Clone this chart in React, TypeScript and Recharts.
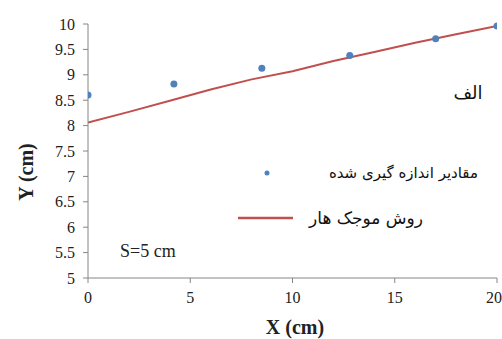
import {
  ComposedChart,
  Line,
  Scatter,
  XAxis,
  YAxis,
} from "recharts";

// measured values along the plate
const measuredX = [0, 4.2, 8.5, 12.8, 17, 20];
const measuredY = [8.6, 8.82, 9.13, 9.38, 9.71, 9.96];

// Haar wavelet solution
const haarX = [0, 2, 4, 6, 8, 10, 12, 14, 16, 18, 20];
const haarY = [8.06, 8.27, 8.49, 8.71, 8.91, 9.07, 9.27, 9.45, 9.63, 9.8, 9.96];

const xTicks = [0, 5, 10, 15, 20];
const yTicks = [5, 5.5, 6, 6.5, 7, 7.5, 8, 8.5, 9, 9.5, 10];

const measuredLabel = "مقادیر اندازه گیری شده";
const haarLabel = "روش موجک هار";
const panelLabel = "الف";
const spacingLabel = "S=5 cm";

const measured = measuredX.map((x, i) => ({ x, y: measuredY[i] }));
const haar = haarX.map((x, i) => ({ x, y: haarY[i] }));

const AXIS = "#868686";
const BLUE = "#4f81bd";
const RED = "#c0504d";
const serif = "Liberation Serif, Times New Roman, serif";
const persian = "DejaVu Sans, sans-serif";

export default function App() {
  return (
    <div
      style={{
        position: "absolute",
        left: 0,
        top: 0,
        width: 502,
        height: 339,
        overflow: "hidden",
        background: "#fff",
      }}
    >
      <ComposedChart
        width={502}
        height={339}
        margin={{ top: 24, right: 5, bottom: 0, left: 0 }}
      >
        <XAxis
          type="number"
          dataKey="x"
          domain={[0, 20]}
          ticks={xTicks}
          height={61}
          tickSize={5}
          tickMargin={9}
          stroke={AXIS}
          tick={{ fill: "#222", fontFamily: serif, fontSize: 16 }}
          allowDataOverflow
        />
        <YAxis
          type="number"
          dataKey="y"
          domain={[5, 10]}
          ticks={yTicks}
          width={88}
          tickSize={5}
          tickMargin={8}
          stroke={AXIS}
          tick={{ fill: "#222", fontFamily: serif, fontSize: 16 }}
        />
        <Line
          data={haar}
          dataKey="y"
          type="linear"
          stroke={RED}
          strokeWidth={2}
          dot={false}
          isAnimationActive={false}
        />
        <Scatter
          data={measured}
          dataKey="y"
          fill={BLUE}
          shape={(p: any) => <circle cx={p.cx} cy={p.cy} r={3.5} fill={BLUE} />}
          isAnimationActive={false}
        />
      </ComposedChart>

      {/* axis titles */}
      <div
        style={{
          position: "absolute",
          left: 26,
          top: 172,
          transform: "translate(-50%, -50%) rotate(-90deg)",
          fontFamily: serif,
          fontWeight: "bold",
          fontSize: 20,
          whiteSpace: "nowrap",
          color: "#222",
        }}
      >
        Y (cm)
      </div>
      <div
        style={{
          position: "absolute",
          left: 295,
          top: 327,
          transform: "translate(-50%, -50%)",
          fontFamily: serif,
          fontWeight: "bold",
          fontSize: 20,
          whiteSpace: "nowrap",
          color: "#222",
        }}
      >
        X (cm)
      </div>

      {/* legend */}
      <svg
        width={60}
        height={60}
        style={{ position: "absolute", left: 236, top: 165 }}
      >
        <circle cx={31} cy={8} r={2.5} fill={BLUE} />
        <line x1={2} y1={53} x2={57} y2={53} stroke={RED} strokeWidth={2.5} />
      </svg>
      <div
        dir="rtl"
        style={{
          position: "absolute",
          right: 502 - 478,
          top: 173,
          transform: "translateY(-50%)",
          fontFamily: persian,
          fontSize: 15,
          whiteSpace: "nowrap",
          color: "#111",
        }}
      >
        {measuredLabel}
      </div>
      <div
        dir="rtl"
        style={{
          position: "absolute",
          right: 502 - 423,
          top: 218,
          transform: "translateY(-50%)",
          fontFamily: persian,
          fontSize: 17,
          whiteSpace: "nowrap",
          color: "#111",
        }}
      >
        {haarLabel}
      </div>

      {/* panel annotations */}
      <div
        dir="rtl"
        style={{
          position: "absolute",
          left: 468,
          top: 92,
          transform: "translate(-50%, -50%)",
          fontFamily: persian,
          fontSize: 18,
          whiteSpace: "nowrap",
          color: "#111",
        }}
      >
        {panelLabel}
      </div>
      <div
        style={{
          position: "absolute",
          left: 120,
          top: 251,
          transform: "translateY(-50%)",
          fontFamily: serif,
          fontSize: 18,
          whiteSpace: "nowrap",
          color: "#222",
        }}
      >
        {spacingLabel}
      </div>
    </div>
  );
}
